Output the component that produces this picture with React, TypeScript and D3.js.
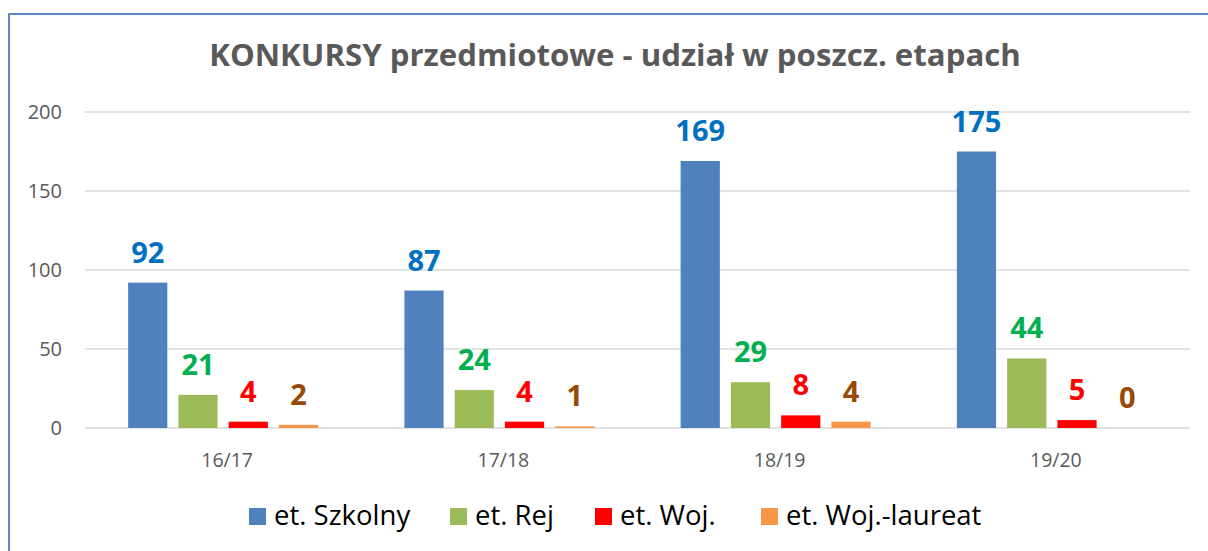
import { useRef, useEffect } from 'react';
import * as d3 from 'd3';

const seasons = ['16/17', '17/18', '18/19', '19/20'];
const seriesNames = ['et. Szkolny', 'et. Rej', 'et. Woj.', 'et. Woj.-laureat'];
const szkolny = [92, 87, 169, 175];
const rej = [21, 24, 29, 44];
const woj = [4, 4, 8, 5];
const laureat = [2, 1, 4, 0];
const yTicks = [0, 50, 100, 150, 200];

const barColors = ['#4F81BD', '#9BBB59', '#FF0000', '#F79646'];
const labelColors = ['#0070C0', '#00B050', '#FF0000', '#984807'];

export default function App() {
  const svgRef = useRef<SVGSVGElement>(null);
  const width = 1208;
  const height = 551;

  useEffect(() => {
    const svg = d3.select(svgRef.current);
    svg.selectAll('*').remove();
    const font = "'Open Sans', sans-serif";
    const series = [szkolny, rej, woj, laureat];

    svg.append('rect').attr('x', 0).attr('y', 0).attr('width', width).attr('height', height).attr('fill', '#fff');
    svg
      .append('rect')
      .attr('x', 9)
      .attr('y', 14)
      .attr('width', 1220)
      .attr('height', 560)
      .attr('fill', 'none')
      .attr('stroke', '#5B87C5')
      .attr('stroke-width', 2);

    svg
      .append('text')
      .attr('x', 615)
      .attr('y', 66)
      .attr('text-anchor', 'middle')
      .attr('font-family', font)
      .attr('font-weight', 'bold')
      .attr('font-size', 31.2)
      .attr('fill', '#595959')
      .text('KONKURSY przedmiotowe - udział w poszcz. etapach');

    const x = d3.scaleBand().domain(seasons).range([85, 1190]);
    const y = d3.scaleLinear().domain([0, 200]).range([428, 112]);
    const inner = d3
      .scaleBand()
      .domain(seriesNames)
      .range([0, 190])
      .paddingInner(0.22);

    svg
      .append('g')
      .selectAll('line')
      .data(yTicks)
      .join('line')
      .attr('x1', 85)
      .attr('x2', 1190)
      .attr('y1', (d) => y(d))
      .attr('y2', (d) => y(d))
      .attr('stroke', '#D9D9D9')
      .attr('stroke-width', 1.5);

    svg
      .append('g')
      .selectAll('text')
      .data(yTicks)
      .join('text')
      .attr('x', 62)
      .attr('y', (d) => y(d))
      .attr('dy', '0.36em')
      .attr('text-anchor', 'end')
      .attr('font-family', font)
      .attr('font-size', 20)
      .attr('fill', '#595959')
      .text((d) => d);

    svg
      .append('g')
      .selectAll('text')
      .data(seasons)
      .join('text')
      .attr('x', (d) => x(d)! + x.bandwidth() / 2 + 4)
      .attr('y', 467)
      .attr('text-anchor', 'middle')
      .attr('font-family', font)
      .attr('font-size', 19.5)
      .attr('fill', '#595959')
      .text((d) => d);

    const groups = svg
      .append('g')
      .selectAll('g')
      .data(seasons)
      .join('g')
      .attr('transform', (d) => `translate(${x(d)! + x.bandwidth() / 2 - 95},0)`);

    seriesNames.forEach((name, si) => {
      groups
        .append('rect')
        .attr('x', inner(name)!)
        .attr('y', (_, i) => y(series[si][i]))
        .attr('width', inner.bandwidth())
        .attr('height', (_, i) => y(0) - y(series[si][i]))
        .attr('fill', barColors[si]);
      groups
        .append('text')
        .attr('x', inner(name)! + inner.bandwidth() / 2)
        .attr('y', (_, i) => y(series[si][i]) - 20)
        .attr('text-anchor', 'middle')
        .attr('font-family', font)
        .attr('font-weight', 'bold')
        .attr('font-size', 29)
        .attr('fill', labelColors[si])
        .text((_, i) => series[si][i]);
    });

    // legend: square + label, positions
    const legendX = [249, 450, 595, 761];
    const legend = svg
      .append('g')
      .selectAll('g')
      .data(seriesNames)
      .join('g')
      .attr('transform', (_, i) => `translate(${legendX[i]},508)`);
    legend
      .append('rect')
      .attr('x', 0)
      .attr('y', 0)
      .attr('width', 17)
      .attr('height', 17)
      .attr('fill', (_, i) => barColors[i]);
    legend
      .append('text')
      .attr('x', 25)
      .attr('y', 17)
      .attr('font-family', font)
      .attr('font-size', 27.5)
      .attr('fill', '#000')
      .text((d) => d);
  }, []);

  return (
    <div style={{ position: 'absolute', left: 0, top: 0 }}>
      <svg ref={svgRef} width={width} height={height} style={{ display: 'block' }} />
    </div>
  );
}
